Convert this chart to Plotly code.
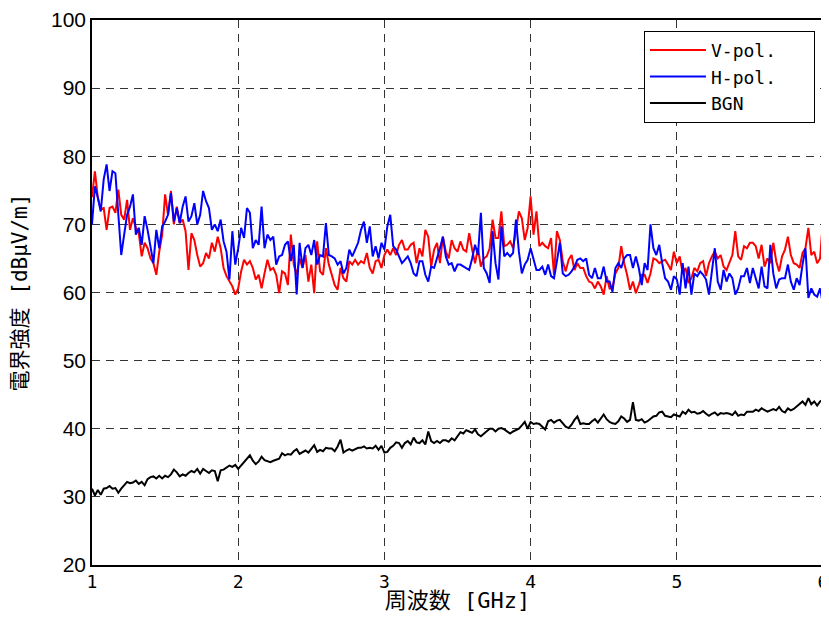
import numpy as np
import plotly.graph_objects as go

# frequency grid [GHz]
freq = np.round(np.linspace(1.0, 6.0, 251), 2)

v_pol = [
    74.0, 77.8, 73.9, 72.2, 72.4, 69.2, 72.4, 72.6, 71.7, 75.1,
    71.4, 70.7, 73.6, 69.2, 70.9, 69.5, 68.7, 65.3, 67.3, 66.5,
    65.0, 64.3, 62.6, 66.0, 68.5, 74.4, 71.4, 74.9, 70.0, 72.6,
    70.2, 70.7, 69.0, 63.3, 68.7, 67.7, 65.5, 63.8, 64.3, 65.8,
    65.0, 67.3, 66.0, 68.2, 66.5, 63.6, 62.4, 61.6, 60.9, 59.7,
    60.6, 63.1, 64.8, 64.1, 64.6, 63.6, 61.9, 62.6, 60.6, 62.8,
    64.8, 63.3, 63.6, 62.6, 59.9, 63.1, 62.8, 61.1, 68.5, 64.1,
    62.6, 65.0, 63.6, 65.5, 61.6, 64.1, 59.9, 67.5, 63.1, 62.6,
    66.5, 64.1, 62.6, 61.1, 60.4,
    63.6, 62.1, 61.6, 64.6, 64.1, 64.8, 64.1, 64.6, 64.3, 65.8,
    63.6, 62.8, 64.6, 64.8, 63.6, 65.5, 66.3, 65.5, 66.5, 65.5,
    67.0, 67.7, 66.3, 66.3, 67.0, 67.3, 64.3, 66.5, 65.3, 69.2,
    68.2, 63.8, 66.3, 67.3, 64.3, 68.2, 66.0, 65.0, 67.7, 66.5,
    66.0, 67.5, 66.3, 66.0, 68.7, 66.3, 64.3, 66.5, 63.8, 65.0,
    65.3, 66.5, 70.7, 68.0, 68.0, 71.9, 66.8, 67.0, 67.5, 66.5,
    69.5, 71.9, 70.9, 67.7, 69.5, 74.1, 68.5, 71.9, 66.8, 67.3,
    66.8, 66.5, 68.0, 62.6, 69.0, 67.7, 64.6, 63.1, 64.8, 65.5,
    63.3, 64.3, 63.6,
    63.6, 62.4, 61.6, 61.4, 60.6, 61.6, 60.9, 59.7, 62.4, 60.6,
    60.6, 62.8, 63.6, 66.8, 64.3, 62.6, 60.4, 61.6, 59.9, 61.1,
    62.6, 62.6, 61.4, 62.8, 65.0, 64.8, 64.3, 64.6, 64.8, 64.1,
    63.3, 66.0, 64.3, 65.3, 62.8, 63.6, 61.4, 62.1, 63.6, 63.1,
    64.3, 64.6, 62.4, 64.3, 65.3, 66.0, 65.0, 65.5, 63.8, 63.3,
    64.3, 65.5, 69.0, 65.3, 64.8, 66.8, 66.5, 67.3, 67.3, 66.8,
    65.0, 67.0, 63.8, 65.0, 64.3, 67.3, 64.6, 63.1, 65.3, 66.3,
    68.2, 65.5, 64.3, 64.1, 63.6, 65.8, 66.5, 69.5, 65.5, 66.0,
    64.3, 65.0, 70.7,
]

h_pol = [
    70.0, 75.6, 73.9, 71.9, 76.6, 78.8, 74.9, 77.8, 77.5, 71.4,
    65.5, 68.5, 71.4, 72.6, 74.4, 68.5, 69.5, 67.0, 71.2, 69.2,
    66.5, 64.3, 69.2, 66.5, 69.7, 70.4, 71.4, 74.6, 70.4, 72.4,
    70.2, 72.6, 74.1, 70.4, 71.2, 73.1, 70.0, 71.4, 74.9, 73.4,
    72.4, 69.2, 70.0, 69.0, 70.7, 67.5, 66.0, 61.9, 69.0, 64.1,
    66.5, 69.5, 68.0, 72.4, 71.7, 66.5, 67.7, 67.0, 72.6, 66.5,
    68.5, 67.7, 68.2, 64.1, 65.3, 65.5, 67.0, 67.5, 64.6, 67.0,
    59.7, 67.3, 63.6, 66.5, 67.0, 65.5, 67.7, 64.1, 65.5, 65.3,
    70.2, 65.5, 65.3, 65.0, 64.1,
    64.6, 62.8, 63.6, 66.3, 65.3, 66.3, 67.3, 69.2, 70.4, 67.3,
    69.7, 65.3, 66.8, 65.0, 67.3, 66.3, 69.7, 71.4, 66.8, 66.3,
    65.3, 64.3, 64.8, 65.3, 64.3, 62.8, 62.4, 64.6, 64.6, 62.6,
    61.6, 63.8, 63.6, 65.0, 66.5, 68.2, 65.3, 64.1, 64.3, 63.1,
    64.1, 64.1, 63.8, 63.6, 63.3, 65.0, 67.0, 65.5, 71.7, 63.6,
    62.8, 61.4, 69.0, 64.3, 61.9, 69.7, 65.3, 65.8, 65.3, 65.8,
    70.7, 66.0, 62.8, 64.1, 64.8, 66.5, 64.8, 63.3, 63.3, 63.8,
    62.6, 64.1, 62.4, 62.1, 64.6, 67.3, 62.8, 62.4, 62.6, 63.1,
    63.8, 64.8, 65.0,
    64.6, 65.0, 62.6, 62.1, 63.6, 62.1, 62.1, 63.8, 61.6, 61.6,
    60.1, 63.6, 64.3, 63.6, 65.0, 65.5, 65.5, 63.6, 65.3, 63.6,
    61.1, 64.3, 63.3, 70.0, 66.5, 65.5, 67.0, 64.3, 62.1, 61.6,
    60.4, 62.4, 61.9, 59.7, 64.3, 60.6, 63.8, 59.7, 62.8, 62.4,
    63.1, 62.6, 61.9, 59.7, 62.8, 66.5, 61.6, 60.4, 63.3, 61.6,
    62.8, 62.1, 59.7, 60.6, 62.4, 62.4, 63.6, 61.4, 63.6, 62.1,
    60.6, 63.8, 60.9, 60.6, 67.0, 62.8, 60.6, 61.9, 62.1, 62.1,
    64.1, 61.6, 60.4, 62.1, 61.1, 64.1, 66.5, 59.2, 60.6, 59.7,
    59.4, 60.6, 58.2,
]

bgn = [
    31.2, 30.2, 31.0, 30.3, 31.2, 31.3, 31.6, 31.2, 31.3, 30.6,
    31.2, 31.7, 32.2, 32.0, 32.1, 32.4, 31.9, 32.2, 31.7, 32.6,
    32.9, 33.0, 32.7, 33.1, 32.7, 33.1, 32.9, 33.3, 34.0, 33.6,
    33.0, 33.3, 33.1, 33.5, 33.8, 33.6, 34.1, 33.4, 34.1, 33.8,
    33.5, 33.9, 33.8, 32.3, 33.9, 34.0, 34.3, 34.6, 34.4, 34.7,
    34.1, 34.6, 35.0, 35.6, 36.1, 35.3, 34.8, 35.2, 35.9, 35.4,
    35.2, 35.1, 35.3, 35.4, 35.6, 36.4, 36.1, 36.3, 36.2, 36.7,
    37.0, 36.3, 36.6, 36.8, 36.5, 37.0, 37.6, 36.6, 36.9, 36.7,
    37.2, 37.1, 37.1, 36.7, 37.4, 38.4, 36.5, 36.8, 37.0, 36.8,
    37.0, 37.2, 37.2, 37.4, 37.1, 37.2, 37.1, 37.5, 36.9, 37.5,
    36.5, 36.6, 37.2, 37.5, 38.0, 37.9, 37.2, 37.9, 38.2, 37.7,
    38.7, 38.0, 37.9, 38.3, 37.7, 39.6, 38.2, 37.9, 38.2, 37.9,
    38.3, 38.3, 38.1, 38.6, 38.3, 39.0, 39.5, 39.3,
    39.8, 39.6, 39.4, 39.9, 39.2, 38.9, 39.3, 39.7, 40.0, 40.0, 39.6, 40.0,
    40.1, 39.9, 39.6, 39.3, 39.6, 39.8, 40.0, 40.5, 41.0, 40.0,
    41.0, 40.7, 40.8, 40.7, 40.3, 39.9, 41.1, 41.3, 40.9, 41.2,
    41.3, 40.8, 40.3, 40.1, 40.6, 41.3, 41.8, 40.7, 40.8, 40.7,
    40.7, 41.1, 41.4, 40.9, 41.5, 42.1, 41.4, 41.0, 40.8, 40.7,
    41.1, 41.8, 41.5, 41.0, 41.3, 43.9, 41.3, 41.2, 41.4, 40.9,
    41.1, 41.5, 41.8, 41.9, 42.4, 42.5, 41.9, 41.8, 41.7, 42.1,
    41.9, 41.8, 42.5, 42.2, 42.8, 42.4, 42.5, 42.2, 42.3, 42.6,
    42.2, 41.9, 42.2, 42.4, 42.0, 42.3, 42.2, 42.3, 42.2, 42.0,
    42.5, 41.9, 42.1, 42.0, 42.5, 42.5, 42.5, 42.8, 42.6, 43.0,
    42.8, 42.5, 42.7, 42.9, 42.7, 43.2, 42.6, 42.4, 43.0, 42.7,
    42.9, 43.3, 43.7, 44.0, 43.5, 44.5, 43.6, 44.0, 43.4, 44.0, 44.3,
]

series_names = ["V-pol.", "H-pol.", "BGN"]
series_colors = ["#ff0000", "#0000ff", "#000000"]
x_ticks = [1, 2, 3, 4, 5, 6]
y_ticks = [20, 30, 40, 50, 60, 70, 80, 90, 100]

x_title = "周波数 [GHz]"
y_title = "電界強度 [dBμV/m]"

mono = "DejaVu Sans Mono, Noto Sans CJK JP"
pad = "\u00a0\u00a0\u00a0"

fig = go.Figure()
for name, ys, col in zip(series_names, [v_pol, h_pol, bgn], series_colors):
    fig.add_trace(go.Scatter(x=freq, y=ys, mode="lines", name=name + pad,
                             line=dict(color=col, width=2)))

# the page body has an 8px margin, so the figure is sized/offset to fit the window
fig.update_layout(
    width=821, height=605,
    margin=dict(l=84, r=6, t=12, b=48, autoexpand=False),
    paper_bgcolor="white", plot_bgcolor="white",
    showlegend=True,
    legend=dict(x=0.989, y=0.98, xanchor="right", yanchor="top",
                bgcolor="white", bordercolor="black", borderwidth=1,
                font=dict(family=mono, size=18, color="black"),
                tracegroupgap=0, itemwidth=56),
)
fig.update_xaxes(
    range=[1, 6], tickvals=x_ticks, ticktext=[str(t) for t in x_ticks],
    automargin=False, ticklabeloverflow="allow",
    showline=True, linecolor="black", linewidth=1.5, mirror=True,
    showgrid=True, gridcolor="#333333", gridwidth=1, griddash="8px,6px",
    zeroline=False, ticks="",
    tickfont=dict(family=mono, size=18, color="black"),
    title=dict(text=x_title, font=dict(family=mono, size=22, color="black"), standoff=2),
)
fig.update_yaxes(
    range=[20, 100], tickvals=y_ticks,
    automargin=False, ticklabeloverflow="allow",
    showline=True, linecolor="black", linewidth=1.5, mirror=True,
    showgrid=True, gridcolor="#333333", gridwidth=1, griddash="8px,6px",
    zeroline=False, ticks="",
    tickfont=dict(family="Liberation Sans, Arial", size=21, color="black"),
    title=dict(text=y_title, font=dict(family=mono, size=21, color="black"), standoff=22),
)

fig.write_html("out.html")
